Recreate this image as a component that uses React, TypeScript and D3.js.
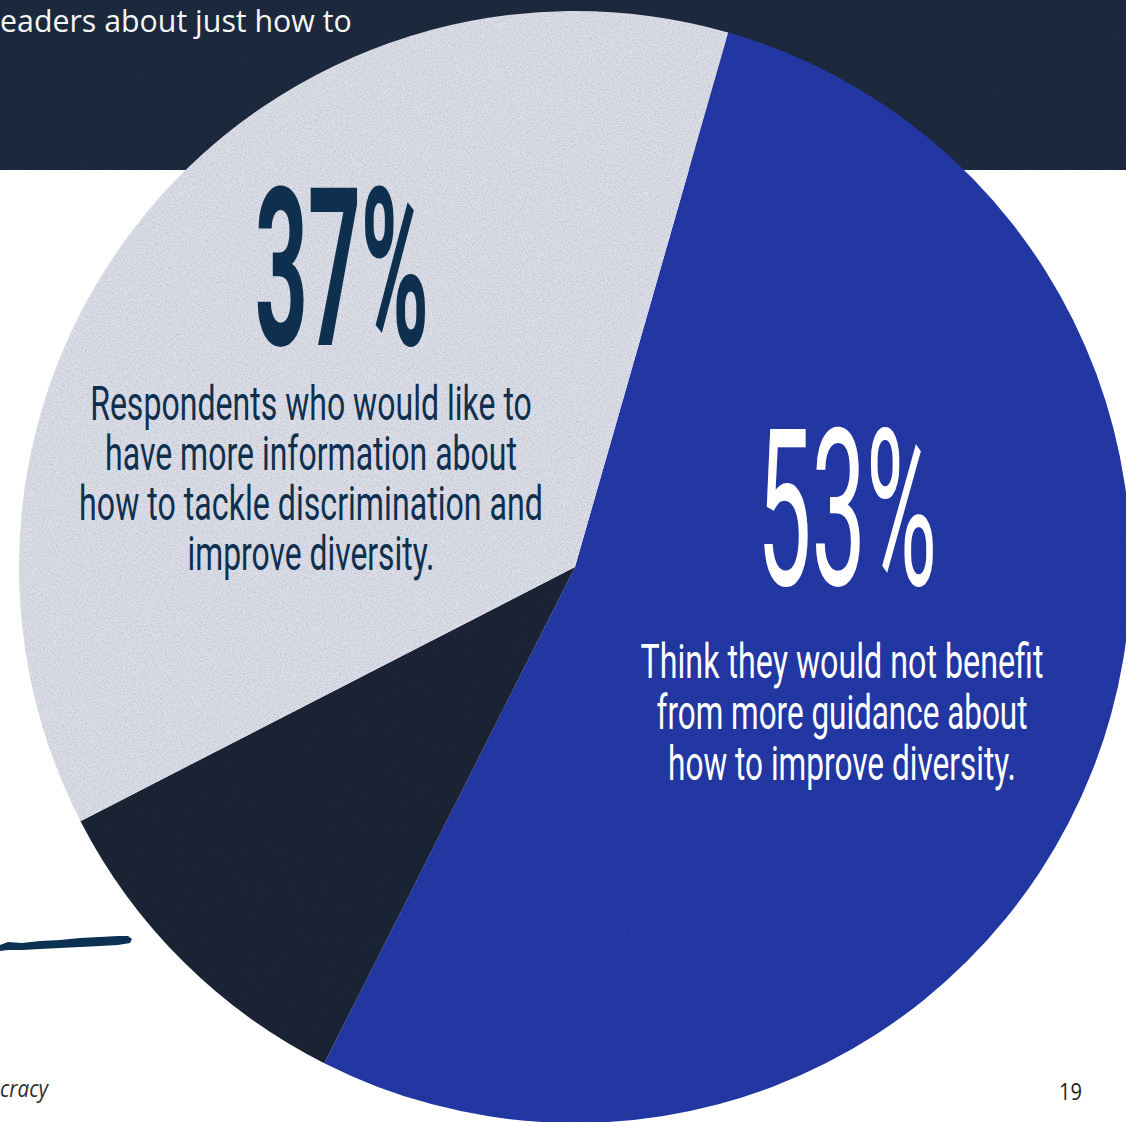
import React, { useLayoutEffect, useRef, useState } from "react";
import * as d3 from "d3";

// ---- data ----
const categories = [
  "Think they would not benefit from more guidance",
  "Other / unanswered",
  "Would like more information",
];
const values = [53, 10, 37];
const valueLabels = ["53%", "", "37%"];
const descBlue = [
  "Think they would not benefit",
  "from more guidance about",
  "how to improve diversity.",
];
const descGray = [
  "Respondents who would like to",
  "have more information about",
  "how to tackle discrimination and",
  "improve diversity.",
];
const headerText = "eaders about just how to";
const footerLeft = "cracy";
const pageNumber = "19";

// ---- styles ----
const W = 1126;
const H = 1122;
const sliceColors = ["#2439a8", "#1b2536", "#dde0ea"];
const bandColor = "#1d2a3f";
const navyText = "#0e2f4e";
const condensed = "Roboto, 'DejaVu Sans', sans-serif";
const geometric = "'Open Sans', Lato, sans-serif";

type FitProps = {
  x: number;
  y: number;
  len: number;
  anchor: "start" | "middle" | "end";
  children: string;
  [k: string]: any;
};

function FitText({ x, y, len, anchor, children, ...rest }: FitProps) {
  const ref = useRef<SVGTextElement>(null);
  const [s, setS] = useState(1);
  useLayoutEffect(() => {
    if (ref.current) {
      const w = ref.current.getComputedTextLength();
      if (w > 0) setS(len / w);
    }
  }, [len, children]);
  return (
    <g transform={`translate(${x},${y}) scale(${s},1)`}>
      <text ref={ref} x={0} y={0} textAnchor={anchor} {...rest}>
        {children}
      </text>
    </g>
  );
}

export default function App() {
  const cx = 575;
  const cy = 567;
  const r = 556;
  const start = (16 * Math.PI) / 180;
  const pie = d3
    .pie<number>()
    .sort(null)
    .startAngle(start)
    .endAngle(start + 2 * Math.PI);
  const arcs = pie(values);
  const arc = d3.arc<d3.PieArcDatum<number>>().innerRadius(0).outerRadius(r);

  // label layout (positions only)
  const blueBig = { x: 847, y: 585, len: 180 };
  const grayBig = { x: 342, y: 345, len: 174 };
  const blueLines = [
    { y: 678, len: 403 },
    { y: 729, len: 371 },
    { y: 780, len: 348 },
  ];
  const grayLines = [
    { y: 420, len: 442 },
    { y: 470, len: 412 },
    { y: 520, len: 464 },
    { y: 570, len: 247 },
  ];

  const brush =
    "M0,945 L8,942 L22,943 L40,941 L60,940 L80,938 L100,937 L118,936 L128,936 L132,939 L130,943 L118,945 L100,946 L80,947 L60,948 L40,949 L22,950 L8,950 L0,951 Z";

  return (
    <svg
      width={W}
      height={H}
      viewBox={`0 0 ${W} ${H}`}
      style={{ position: "absolute", left: 0, top: 0, display: "block" }}
    >
      <defs>
        <filter id="grain" x="0" y="0" width="100%" height="100%">
          <feTurbulence
            type="fractalNoise"
            baseFrequency="0.55 0.75"
            numOctaves="3"
            seed="7"
            result="t"
          />
          <feColorMatrix
            in="t"
            type="matrix"
            values="0 0 0 0 0  0 0 0 0 0  0 0 0 0 0  1.6 0 0 0 -0.6"
          />
        </filter>
        <clipPath id="texClip">
          <rect x={0} y={0} width={W} height={170} />
          <circle cx={cx} cy={cy} r={r} />
        </clipPath>
      </defs>

      <rect x={0} y={0} width={W} height={H} fill="#ffffff" />
      <rect x={0} y={0} width={W} height={170} fill={bandColor} />

      <FitText
        x={0}
        y={32}
        len={352}
        anchor="start"
        fontFamily={geometric}
        fontSize={31}
        fill="#ffffff"
      >
        {headerText}
      </FitText>

      <g transform={`translate(${cx},${cy})`}>
        {arcs.map((a, i) => (
          <path key={categories[i]} d={arc(a) || ""} fill={sliceColors[i]} />
        ))}
      </g>

      <rect
        x={0}
        y={0}
        width={W}
        height={H}
        filter="url(#grain)"
        clipPath="url(#texClip)"
        opacity={0.16}
      />

      <path d={brush} fill="#0b3152" />

      {/* 37% label */}
      <FitText
        x={grayBig.x}
        y={grayBig.y}
        len={grayBig.len}
        anchor="middle"
        fontFamily={condensed}
        fontWeight={700}
        fontSize={220}
        fill={navyText}
      >
        {valueLabels[2]}
      </FitText>
      {descGray.map((line, i) => (
        <FitText
          key={line}
          x={311}
          y={grayLines[i].y}
          len={grayLines[i].len}
          anchor="middle"
          fontFamily={condensed}
          fontWeight={400}
          fontSize={48}
          fill={navyText}
        >
          {line}
        </FitText>
      ))}

      {/* 53% label */}
      <FitText
        x={blueBig.x}
        y={blueBig.y}
        len={blueBig.len}
        anchor="middle"
        fontFamily={condensed}
        fontWeight={400}
        fontSize={220}
        fill="#ffffff"
      >
        {valueLabels[0]}
      </FitText>
      {descBlue.map((line, i) => (
        <FitText
          key={line}
          x={842}
          y={blueLines[i].y}
          len={blueLines[i].len}
          anchor="middle"
          fontFamily={condensed}
          fontWeight={400}
          fontSize={48}
          fill="#ffffff"
        >
          {line}
        </FitText>
      ))}

      <FitText
        x={0}
        y={1097}
        len={48}
        anchor="start"
        fontFamily={geometric}
        fontStyle="italic"
        fontSize={23}
        fill="#2e2e2e"
      >
        {footerLeft}
      </FitText>
      <FitText
        x={1082}
        y={1100}
        len={23}
        anchor="end"
        fontFamily={geometric}
        fontSize={23}
        fill="#1e1e1e"
      >
        {pageNumber}
      </FitText>
    </svg>
  );
}
